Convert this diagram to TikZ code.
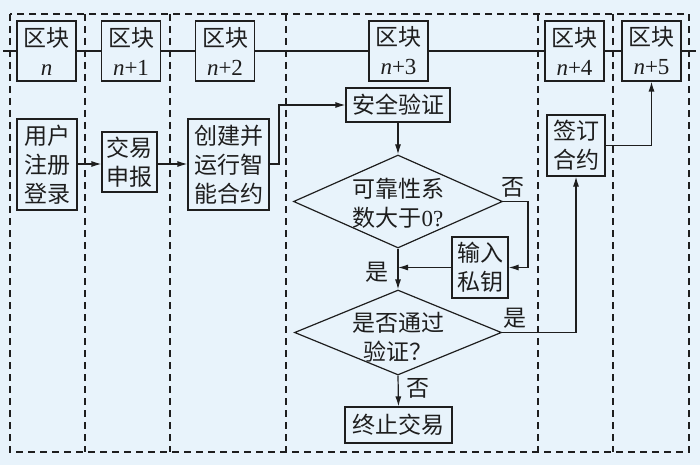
\documentclass[tikz,border=0pt]{standalone}
\usepackage{fontspec}
\setmainfont{Liberation Serif}
\newfontfamily\cjk{Noto Sans CJK SC}
\usetikzlibrary{shapes.geometric,arrows.meta}
\definecolor{bgc}{RGB}{232,243,251}
\definecolor{ink}{RGB}{30,30,30}
\tikzset{
  lane/.style={draw=ink,line width=1.3pt,dash pattern=on 7pt off 5pt},
  conn/.style={draw=ink,line width=1.2pt},
  arr/.style={conn,-{Latex[length=10pt,width=6pt]}},
  boxnode/.style={draw=ink,line width=1.2pt,fill=bgc,inner sep=0pt,align=center,
    font=\cjk\fontsize{23}{29}\selectfont,text=ink},
  blocknode/.style={boxnode,minimum width=59pt,minimum height=60pt},
  dianode/.style={draw=ink,line width=1.2pt,fill=bgc,shape=diamond,inner sep=0pt},
  txt/.style={inner sep=0pt,align=center,font=\cjk\fontsize{23}{29}\selectfont,text=ink},
}
\begin{document}
\begin{tikzpicture}[x=1pt,y=-1pt]
\fill[bgc] (0,0) rectangle (700,465);
\useasboundingbox (0,0) rectangle (700,465);
% lanes
\draw[lane] (10,14) rectangle (689,452);
\foreach \xx in {85,170,286,538,613} \draw[lane] (\xx,14) -- (\xx,452);
% blocks
\node[blocknode] (b0) at (46.5,51) {区块\\{\rmfamily\textit{n}}};
\node[blocknode] (b1) at (131,51) {区块\\{\rmfamily\textit{n}+1}};
\node[blocknode] (b2) at (225,51) {区块\\{\rmfamily\textit{n}+2}};
\node[blocknode] (b3) at (398.5,51) {区块\\{\rmfamily\textit{n}+3}};
\node[blocknode] (b4) at (574.5,51) {区块\\{\rmfamily\textit{n}+4}};
\node[blocknode] (b5) at (651.5,51) {区块\\{\rmfamily\textit{n}+5}};
\coordinate (chainL) at (3,51);
\coordinate (chainR) at (696,51);
\draw[conn] (chainL) -- (b0.west) (b0.east) -- (b1.west) (b1.east) -- (b2.west)
  (b2.east) -- (b3.west) (b3.east) -- (b4.west) (b4.east) -- (b5.west) (b5.east) -- (chainR);
% process boxes
\node[boxnode,minimum width=60pt,minimum height=91pt] (user) at (47,164.5) {用户\\注册\\登录};
\node[boxnode,minimum width=55pt,minimum height=60pt] (trade) at (129.5,162) {交易\\申报};
\node[boxnode,minimum width=81pt,minimum height=91pt] (create) at (228.5,164.5) {创建并\\运行智\\能合约};
\node[boxnode,minimum width=104pt,minimum height=34pt] (safe) at (398,105) {安全验证};
\node[dianode,minimum width=209pt,minimum height=93pt] (d1) at (398,201.5) {};
\node[txt] (d1t) at (398,203.5) {可靠性系\\数大于{\rmfamily 0?}};
\node[boxnode,minimum width=56pt,minimum height=61pt] (key) at (480,267.5) {输入\\私钥};
\node[dianode,minimum width=207pt,minimum height=85pt] (d2) at (398,332.5) {};
\node[txt] (d2t) at (398,337) {是否通过\\验证？};
\node[boxnode,minimum width=107pt,minimum height=36pt] (stop) at (398.5,425) {终止交易};
\node[boxnode,minimum width=58pt,minimum height=61pt] (sign) at (576,145.5) {签订\\合约};
% connectors
\draw[arr] (user.east |- 0,164) -- (trade.west |- 0,164);
\draw[arr] (trade.east |- 0,164) -- (create.west |- 0,164);
\draw[arr] (create.east |- 0,164) -- (279,164) |- (safe.west);
\draw[arr] (safe.south) -- (d1.north);
\draw[arr] (d1.east) -- (528,201.5) |- (key.east);
\draw[arr] (key.west) -- (key.west -| d1.south);
\draw[arr] (d1.south) -- (d2.north);
\draw[arr] (d2.south) -- (stop.north);
\draw[arr] (d2.east) -| (sign.south);
\draw[arr] (sign.east) -| (b5.south);
% labels
\node[txt] (no1) at (513,187) {否};
\node[txt] (yes1) at (377,272) {是};
\node[txt] (yes2) at (515,318) {是};
\node[txt] (no2) at (418,388) {否};
\end{tikzpicture}
\end{document}
